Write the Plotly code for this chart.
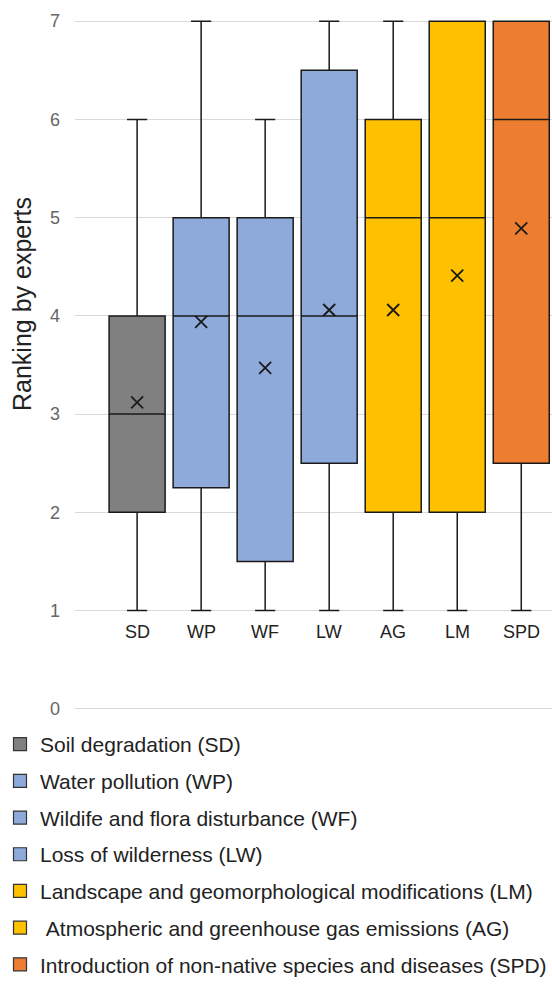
import plotly.graph_objects as go

codes = ["SD", "WP", "WF", "LW", "AG", "LM", "SPD"]
mins = [1, 1, 1, 1, 1, 1, 1]
q1s = [2, 2.25, 1.5, 2.5, 2, 2, 2.5]
medians = [3, 4, 4, 4, 5, 5, 6]
q3s = [4, 5, 5, 6.5, 6, 7, 7]
maxs = [6, 7, 6, 7, 7, 7, 7]
means = [3.12, 3.94, 3.47, 4.06, 4.06, 4.41, 4.89]
colors = ["#808080", "#8EAADB", "#8EAADB", "#8EAADB", "#FFC000", "#FFC000", "#ED7D31"]

legend_names = [
    "Soil degradation (SD)",
    "Water pollution (WP)",
    "Wildife and flora disturbance (WF)",
    "Loss of wilderness (LW)",
    "Landscape and geomorphological modifications (LM)",
    "\u00a0Atmospheric and greenhouse gas emissions (AG)",
    "Introduction of non-native species and diseases (SPD)",
]
legend_colors = ["#808080", "#8EAADB", "#8EAADB", "#8EAADB", "#FFC000", "#FFC000", "#ED7D31"]

fig = go.Figure()
for i, c in enumerate(codes):
    fig.add_trace(go.Box(
        x=[i], q1=[q1s[i]], median=[medians[i]], q3=[q3s[i]],
        lowerfence=[mins[i]], upperfence=[maxs[i]],
        width=0.875, whiskerwidth=0.36,
        fillcolor=colors[i], line=dict(color="#1a1a1a", width=1.5),
        showlegend=False, name=c,
    ))

fig.add_trace(go.Scatter(
    x=list(range(len(codes))), y=means, mode="markers",
    marker=dict(symbol="x-thin", size=12, line=dict(width=1.8, color="#1a1a1a")),
    showlegend=False,
))

# category labels
for i, c in enumerate(codes):
    fig.add_annotation(x=i, y=0.78, text=c, showarrow=False,
                       font=dict(size=18, color="#222"), xref="x", yref="y")

L, T, B = 75, 20, 275
pw, ph = 552 - L, 985 - T - B

# y-axis title
fig.add_annotation(x=(22 - L) / pw, y=(985 - B - 304) / ph, xref="paper", yref="paper",
                   text="Ranking by experts", textangle=-90, showarrow=False,
                   font=dict(size=25, color="#222"), xanchor="center", yanchor="middle")

for k, (n, col) in enumerate(zip(legend_names, legend_colors)):
    fig.add_trace(go.Scatter(
        x=[None], y=[None], mode="markers", name=n, legendgroup=str(k),
        marker=dict(symbol="square", size=13, color=col, line=dict(width=1.2, color="#333")),
    ))

fig.update_layout(
    width=552, height=985,
    margin=dict(l=L, r=0, t=T, b=B, autoexpand=False),
    paper_bgcolor="white", plot_bgcolor="white",
    font=dict(family="Liberation Sans, Arial, sans-serif", color="#222"),
    boxmode="overlay",
    xaxis=dict(range=[-0.97, 6.48], showticklabels=False, showgrid=False,
               zeroline=False, showline=False),
    yaxis=dict(range=[-0.012, 7.012], dtick=1, tick0=0, gridcolor="#d9d9d9", gridwidth=1,
               zeroline=True, zerolinecolor="#d9d9d9", zerolinewidth=1, showline=False,
               tickfont=dict(size=18, color="#666666"), ticklabelstandoff=14),
    legend=dict(xref="container", yref="container", x=0, y=1 - 724 / 985,
                xanchor="left", yanchor="top", font=dict(size=21, color="#222"),
                tracegroupgap=6.4, itemclick=False, bgcolor="rgba(0,0,0,0)"),
)

fig.write_html("out.html", config={"displayModeBar": False},
               post_script="document.body.style.margin='0';")
